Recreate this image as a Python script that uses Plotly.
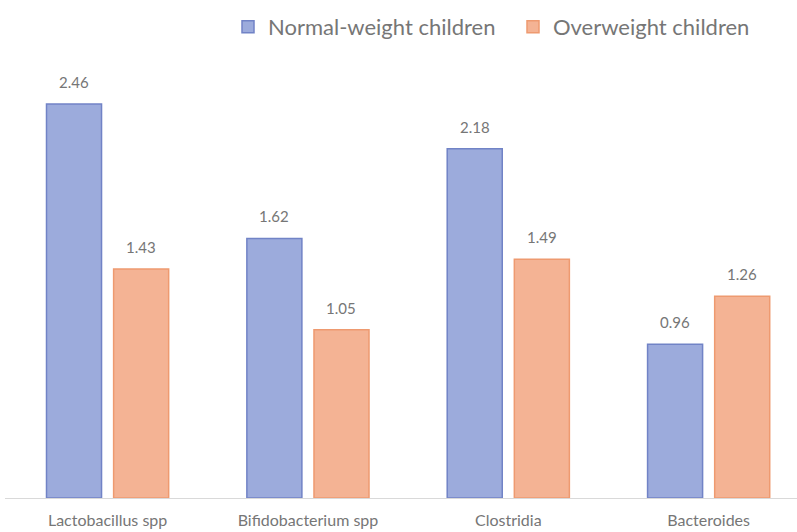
import plotly.graph_objects as go

categories = ["Lactobacillus spp", "Bifidobacterium spp", "Clostridia", "Bacteroides"]
normal_weight = [2.46, 1.62, 2.18, 0.96]
overweight = [1.43, 1.05, 1.49, 1.26]
series_names = ["Normal-weight children", "Overweight children"]

blue_fill, blue_line = "#9cabdc", "#7183c6"
orange_fill, orange_line = "#f4b394", "#ee9a70"
label_color = "#767676"
font_family = "Lato, 'Open Sans', sans-serif"

fig = go.Figure()
fig.add_trace(go.Bar(
    x=categories, y=normal_weight, name=series_names[0],
    marker=dict(color=blue_fill, line=dict(color=blue_line, width=1.5)),
))
fig.add_trace(go.Bar(
    x=categories, y=overweight, name=series_names[1],
    marker=dict(color=orange_fill, line=dict(color=orange_line, width=1.5)),
))

# value labels sitting above each bar
annotations = []
for values, shift in ((normal_weight, -33.5), (overweight, 33.5)):
    for cat, v in zip(categories, values):
        annotations.append(dict(x=cat, y=v, text=f"{v:.2f}", showarrow=False,
                                xshift=shift, yshift=22, yanchor="middle",
                                font=dict(size=15, color=label_color, family=font_family)))

fig.update_layout(
    width=797, height=532,
    margin=dict(l=5, r=0, t=60, b=34),
    paper_bgcolor="white", plot_bgcolor="white",
    barmode="group", bargap=0.33, bargroupgap=0.18,
    showlegend=True,
    legend=dict(orientation="h", x=228 / 797, y=1 - 27 / 532, xref="container", yref="container",
                xanchor="left", yanchor="middle",
                font=dict(size=22, color=label_color, family=font_family),
                itemwidth=30, traceorder="normal", entrywidth=240),
    annotations=annotations,
    xaxis=dict(range=[-0.512, 3.441], showline=True, linecolor="#d9d9d9", linewidth=1,
               ticks="", ticklabelstandoff=8,
               tickfont=dict(size=16, color=label_color, family=font_family),
               showgrid=False, zeroline=False),
    yaxis=dict(range=[0, 2.734], visible=False, showgrid=False, zeroline=False),
)

fig.write_html("out.html")
